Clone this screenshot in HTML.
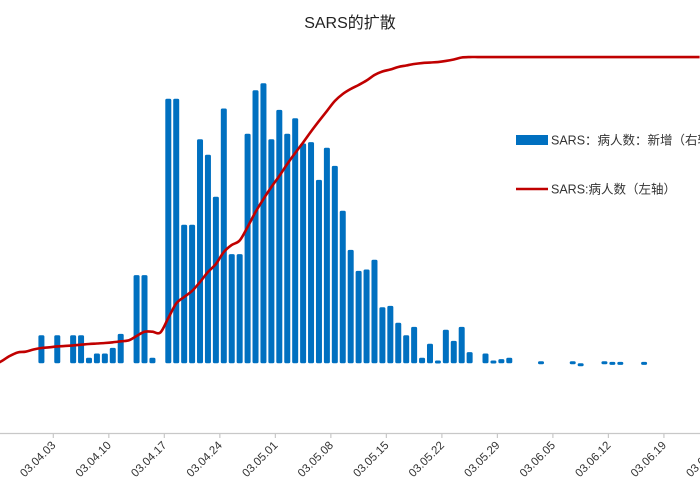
<!DOCTYPE html>
<html><head><meta charset="utf-8"><style>
html,body{margin:0;padding:0;background:#fff}
svg{display:block;font-family:"Liberation Sans","Noto Sans CJK SC",sans-serif}
</style></head><body>
<svg id="chart" width="700" height="500" viewBox="0 0 700 500" xmlns="http://www.w3.org/2000/svg">
<text x="350" y="28" text-anchor="middle" font-size="16" fill="#222">SARS的扩散</text>
<g id="bars"></g>
<path id="cum-line" fill="none" stroke="#c00000" stroke-width="2.6" stroke-linejoin="round"></path>
<line x1="0" y1="433.5" x2="700" y2="433.5" stroke="#c8c8c8" stroke-width="1.2"/>
<g id="ticks"></g>
<g>
<rect x="516" y="135" width="32" height="10" fill="#0070c0"/>
<text x="551" y="144.5" font-size="12.5" fill="#333">SARS：病人数：新增（右轴）</text>
<line x1="516" y1="189" x2="548" y2="189" stroke="#c00000" stroke-width="2.6"/>
<text x="551" y="193.5" font-size="12.5" fill="#333">SARS:病人数（左轴）</text>
</g>
</svg>
<script>
// day index 0 = 03.03.27
const tickLabels = ["03.03.27","03.04.03","03.04.10","03.04.17","03.04.24","03.05.01","03.05.08","03.05.15","03.05.22","03.05.29","03.06.05","03.06.12","03.06.19","03.06.26"];
const barDays = [5,7,9,10,11,12,13,14,15,17,18,19,21,22,23,24,25,26,27,28,29,30,31,32,33,34,35,36,37,38,39,40,41,42,43,44,45,46,47,48,49,50,51,52,53,54,55,56,57,58,59,61,62,63,64,68,72,73,76,77,78,81];
const newCases = [20,20,20,20,4,7,7,11,21,63,63,4,189,189,99,99,160,149,119,182,78,78,164,195,200,160,181,164,175,157,158,131,154,141,109,81,66,67,74,40,41,29,20,26,4,14,2,24,16,26,8,7,2,3,4,1.5,1.5,-2,1.5,1,1,1];
const cumulative = [1020,1091,1141,1152,1183,1204,1214,1226,1233,1241,1251,1261,1268,1275,1285,1299,1313,1374,1435,1435,1424,1629,1835,1927,2012,2139,2281,2394,2564,2664,2727,2919,3131,3315,3485,3641,3811,3967,4116,4272,4420,4562,4704,4803,4874,4931,4994,5072,5122,5150,5186,5207,5228,5242,5249,5256,5271,5292,5320,5327,5327,5327,5327,5327,5327,5327,5327,5327,5327,5327,5327,5327,5327,5327,5327,5327,5327,5327,5327,5327,5327,5327,5327,5327,5327,5327,5327,5327,5327];

const NS="http://www.w3.org/2000/svg";
const dayW = 7.93;
function xCenter(d){return -2.2 + dayW*(d+0.5);}
function xBoundary(d){return -2.2 + dayW*d;}
function yRight(v){return 363.3 - v*1.4;}   // right axis: new cases
function yLeft(v){return 433 - v*0.07058;}  // left axis: cumulative

const bars=document.getElementById('bars');
barDays.forEach((d,i)=>{
  const v=newCases[i];
  const y0=yRight(0), y1=yRight(v);
  const r=document.createElementNS(NS,'rect');
  
  
  r.setAttribute('x',(xCenter(d)-3).toFixed(2));
  r.setAttribute('y',Math.min(y0,y1).toFixed(2));
  r.setAttribute('width',6);
  r.setAttribute('height',Math.max(Math.abs(y0-y1),3).toFixed(2));
  r.setAttribute('rx',1.5);
  r.setAttribute('fill','#0070c0');
  bars.appendChild(r);
});

let pts=cumulative.map((v,d)=>[xCenter(d),yLeft(v)]);
pts.unshift([-2,yLeft(cumulative[0])+2]);
let dstr='M'+pts[0][0]+','+pts[0][1];
for(let i=1;i<pts.length;i++){
  const p0=pts[Math.max(0,i-2)],p1=pts[i-1],p2=pts[i],p3=pts[Math.min(pts.length-1,i+1)];
  const c1=[p1[0]+(p2[0]-p0[0])/6,p1[1]+(p2[1]-p0[1])/6];
  const c2=[p2[0]-(p3[0]-p1[0])/6,p2[1]-(p3[1]-p1[1])/6];
  dstr+=` C${c1[0].toFixed(2)},${c1[1].toFixed(2)} ${c2[0].toFixed(2)},${c2[1].toFixed(2)} ${p2[0].toFixed(2)},${p2[1].toFixed(2)}`;
}
document.getElementById('cum-line').setAttribute('d',dstr);

const ticks=document.getElementById('ticks');
tickLabels.forEach((lab,i)=>{
  const x=xBoundary(i*7);
  const t=document.createElementNS(NS,'line');
  
  
  t.setAttribute('x1',x);t.setAttribute('x2',x);
  t.setAttribute('y1',433.5);t.setAttribute('y2',438);
  t.setAttribute('stroke','#c8c8c8');t.setAttribute('stroke-width',1.2);
  ticks.appendChild(t);
  const tx=document.createElementNS(NS,'text');
  
  
  tx.setAttribute('x',x+3);tx.setAttribute('y',446);
  tx.setAttribute('text-anchor','end');
  tx.setAttribute('font-size','11.5');
  tx.setAttribute('fill','#333');
  tx.setAttribute('transform',`rotate(-45 ${x+3} 446)`);
  tx.textContent=lab;
  ticks.appendChild(tx);
});
</script>
</body></html>
